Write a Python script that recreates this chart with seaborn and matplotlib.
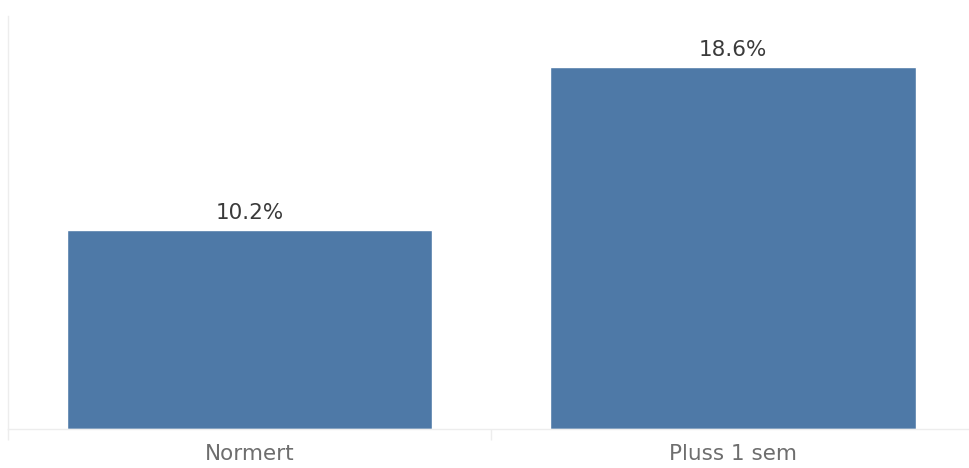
import pandas as pd
import seaborn as sns
import matplotlib.pyplot as plt

# Data
categories = ["Normert", "Pluss 1 sem"]
values = [10.2, 18.6]
value_labels = ["10.2%", "18.6%"]

df = pd.DataFrame({"Kategori": categories, "Andel": values})

sns.set_style("white")
plt.rcParams["font.family"] = ["DejaVu Sans"]

fig = plt.figure(figsize=(9.69, 4.68), dpi=100)
ax = fig.add_axes([8 / 969, 39 / 468, 1 - 8 / 969, 413 / 468])

sns.barplot(data=df, x="Kategori", y="Andel", color="#4e79a7", saturation=1,
            width=0.756, ax=ax)

ax.set_xlim(-0.5, 1.488)
ax.set_ylim(0, 21.2)

# value labels on top of bars
for i, v in enumerate(values):
    ax.annotate(value_labels[i], (i, v), xytext=(0, 8), textcoords="offset points",
                ha="center", va="baseline", fontsize=15.5, color="#3a3a3a")

# axis styling
for s in ["top", "right"]:
    ax.spines[s].set_visible(False)
ax.spines["left"].set_color("#ededed")
ax.spines["left"].set_linewidth(1)
ax.spines["bottom"].set_color("#ededed")
ax.spines["bottom"].set_linewidth(1)
ax.set_yticks([])
ax.set_xlabel("")
ax.set_ylabel("")

# category dividers below the baseline
ax.set_xticks([-0.5, 0.5], minor=True)
ax.tick_params(axis="x", which="minor", bottom=True, length=8,
               color="#ededed", width=1)
ax.tick_params(axis="x", which="major", length=0, labelsize=15.5,
               labelcolor="#6e6e6e", pad=11)

fig.savefig("out.png", dpi=100)
